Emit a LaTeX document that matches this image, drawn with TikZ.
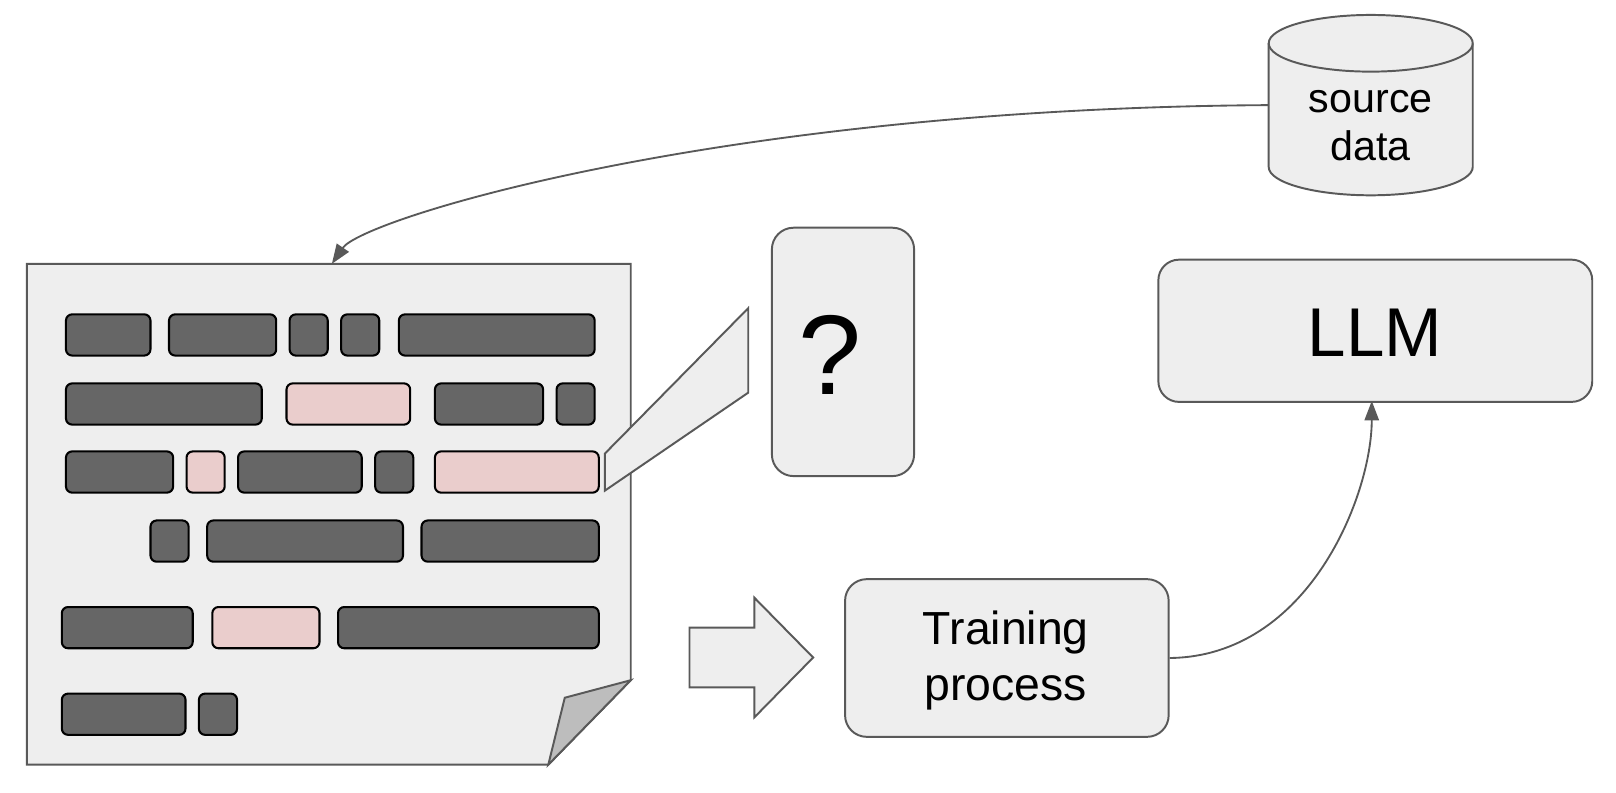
\documentclass[tikz,border=0pt]{standalone}
\usepackage{fontspec}
\setmainfont{Liberation Sans}
\usetikzlibrary{arrows.meta}
\definecolor{lightfill}{HTML}{EEEEEE}
\definecolor{bordergray}{HTML}{595959}
\definecolor{dkfill}{HTML}{666666}
\definecolor{pkfill}{HTML}{EACDCC}
\definecolor{foldfill}{HTML}{BDBDBD}
\tikzset{
  shapeline/.style={draw=bordergray, line width=1.9pt, fill=lightfill},
  roundbox/.style={shapeline, rounded corners=21pt, inner sep=0pt, anchor=north west},
  blk/.style={draw=black, line width=2pt, rounded corners=6pt, inner sep=0pt, anchor=north west, minimum height=40pt},
  conn/.style={draw=bordergray, line width=1.8pt, -{Triangle[length=19pt,width=14pt]}},
  lbl/.style={inner sep=0pt, align=center, text=black}
}
\begin{document}
\begin{tikzpicture}[x=1pt,y=-1pt]
\useasboundingbox (0,0) rectangle (1568,768.5);

% document page
\draw[shapeline, line join=miter] (26,256) -- (612,256) -- (612,660) -- (532,742) -- (26,742) -- cycle;
\draw[draw=bordergray, line width=1.9pt, fill=foldfill, line join=miter] (612,660) -- (548,677) -- (532,742) -- cycle;
\coordinate (doctop) at (322,256);

% word blocks
\foreach \a/\b/\y/\c [count=\i] in {
  63/145/304/dkfill, 163/267/304/dkfill, 280/317/304/dkfill, 330/367/304/dkfill, 386/576/304/dkfill,
  63/253/371/dkfill, 277/397/371/pkfill, 421/526/371/dkfill, 539/576/371/dkfill,
  63/167/437/dkfill, 180/217/437/pkfill, 230/350/437/dkfill, 363/400/437/dkfill, 421/580/437/pkfill,
  145/182/504/dkfill, 200/390/504/dkfill, 408/580/504/dkfill,
  59/186/588/dkfill, 205/309/588/pkfill, 327/580/588/dkfill,
  59/179/672/dkfill, 192/229/672/dkfill}
  \node[blk, fill=\c, minimum width={(\b-\a)*1pt}] (w\i) at (\a,\y) {};

% callout
\draw[shapeline, line join=miter] (587,440) -- (726,299) -- (726,381) -- (587,476) -- cycle;

% question box
\node[roundbox, minimum width=138pt, minimum height=241pt] (qbox) at (748,220) {};
\node[lbl, font=\fontsize{110}{120}\selectfont] (qtext) at (805,344) {?};

% LLM box
\node[roundbox, rounded corners=20pt, minimum width=421pt, minimum height=138pt] (llm) at (1123,251) {};
\node[lbl, font=\fontsize{67}{80}\selectfont] (llmtext) at (1334,323) {LLM};

% Training box
\node[roundbox, minimum width=314pt, minimum height=153pt] (train) at (819,561) {};
\node[lbl, font=\fontsize{45}{55}\selectfont] (traintext) at (976,641) {Training\\process};

% block arrow
\draw[shapeline, line join=miter] (669,609) -- (732,609) -- (732,580) -- (789,638) -- (732,696) -- (732,667) -- (669,667) -- cycle;

% cylinder
\draw[shapeline] (1231,42) -- (1231,162) arc[start angle=180, end angle=360, x radius=99pt, y radius=27.5pt] -- (1429,42) arc[start angle=0, end angle=180, x radius=99pt, y radius=27.5pt] -- cycle;
\draw[draw=bordergray, line width=1.9pt] (1231,42) arc[start angle=180, end angle=360, x radius=99pt, y radius=27.5pt];
\node[lbl, font=\fontsize{40}{46}\selectfont] (src) at (1330,122) {source\\data};
\coordinate (srcleft) at (1231,102);

% connectors
\coordinate (trainright) at (train.east);
\coordinate (llmbottom) at (1331,389);
\draw[conn] (srcleft) .. controls (700,105) and (352,212) .. (doctop);
\draw[conn] (trainright) .. controls (1270,637) and (1331,480) .. (llmbottom);
\end{tikzpicture}
\end{document}
